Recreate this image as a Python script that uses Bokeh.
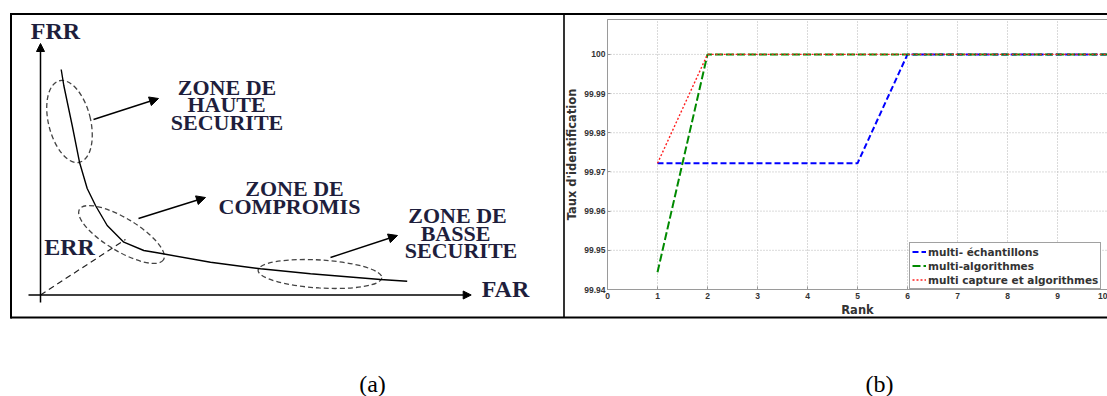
from bokeh.plotting import figure
from bokeh.models import (Range1d, ColumnDataSource, Arrow, NormalHead, LinearAxis,
                          FixedTicker, Legend, LegendItem)
from bokeh.embed import file_html
from bokeh.resources import INLINE
from bokeh.core.properties import value

# ---------------- (a) schematic FRR / FAR (page pixel coordinates) ----------------
curve_x = [60.7, 63.3, 71.7, 79, 86.7, 95, 106.7, 123.3, 143.3, 156.7, 210, 260, 310, 380, 406.7]
curve_y = [69, 85, 125, 161.7, 188, 205, 225, 241.7, 250, 252.3, 261.7, 268.3, 273.3, 279, 280.7]
err_x = [40, 125]
err_y = [294.5, 239]
ell_x = [69, 121, 319.5]
ell_y = [121, 234, 273.5]
ell_w = [42, 98, 124]
ell_h = [84, 33, 28]
ell_angle = [14, -31, -3.5]
arrow_x0 = [93, 138, 330]
arrow_y0 = [119, 218, 257]
arrow_x1 = [158, 205, 397]
arrow_y1 = [98, 197, 235]
zone_labels = ["ZONE DE", "HAUTE", "SECURITE", "ZONE DE", "COMPROMIS", "ZONE DE", "BASSE", "SECURITE"]
zone_x = [226.5, 226, 226.5, 294, 289, 457, 455, 460.5]
zone_y = [86.7, 104.3, 122.3, 188.3, 205.7, 215, 232.7, 250]
axis_names = ["FRR", "ERR", "FAR"]
axis_name_x = [55, 69, 505]
axis_name_y = [30, 246, 288]
frr_axis = (40, 302, 40, 43)
far_axis = (28, 294.5, 470.7, 294.5)

# ---------------- (b) identification rate vs rank ----------------
ranks = [1, 2, 3, 4, 5, 6, 7, 8, 9, 10]
multi_echantillons = [99.9722, 99.9722, 99.9722, 99.9722, 99.9722, 100, 100, 100, 100, 100]
multi_algorithmes = [99.9444, 100, 100, 100, 100, 100, 100, 100, 100, 100]
multi_capture = [99.9722, 100, 100, 100, 100, 100, 100, 100, 100, 100]
series_names = ["multi- échantillons", "multi-algorithmes", "multi capture et algorithmes"]
x_ticks = [0, 1, 2, 3, 4, 5, 6, 7, 8, 9, 10]
y_ticks = [99.94, 99.95, 99.96, 99.97, 99.98, 99.99, 100]
y_tick_labels = ["99.94", "99.95", "99.96", "99.97", "99.98", "99.99", "100"]
captions = ["(a)", "(b)"]
caption_x = [372, 879]
caption_y = [383, 383]

TXT = "#1e1e3c"
SERIF = value("Liberation Serif")

# page geometry (pixels)
W, H = 1107, 396
FRAME_TOP, FRAME_BOT = 19, 289      # chart frame (b)
B_LEFT = 607                         # left edge of the chart frame
PX_PER_RANK = 50
Y_LO, Y_HI = 99.94, 100.0089
X_LO, X_HI = 0, 10
k = (Y_HI - Y_LO) / (FRAME_BOT - FRAME_TOP)

p = figure(width=W, height=H, x_range=Range1d(0, W), y_range=Range1d(H, 0),
           x_axis_type=None, y_axis_type=None, output_backend="svg", toolbar_location=None,
           min_border=0, min_border_left=0, min_border_right=0, min_border_top=0,
           min_border_bottom=0)
p.outline_line_color = None
p.background_fill_color = "white"
p.border_fill_color = "white"
p.title.visible = False
p.extra_x_ranges = {"rank": Range1d(-B_LEFT / PX_PER_RANK, (W - B_LEFT) / PX_PER_RANK)}
p.extra_y_ranges = {"taux": Range1d(Y_LO - (H - FRAME_BOT) * k, Y_LO + FRAME_BOT * k)}


def seg(x0, y0, x1, y1, width=2.0, dash="solid", color="black"):
    p.line([x0, x1], [y0, y1], line_color=color, line_width=width, line_dash=dash)


# outer frame of the whole figure
seg(10.5, 12.5, 10.5, 318)
seg(10, 13.5, W, 13.5)
seg(10, 317, W, 317)
seg(563.5, 13, 563.5, 317.5, width=1.6)

# ---------------- panel (a) ----------------
p.ellipse(x=ell_x, y=ell_y, width=ell_w, height=ell_h, angle=ell_angle,
          angle_units="deg", width_units="screen", height_units="screen",
          fill_color=None, line_color="#444444", line_width=1.3, line_dash="5 3")
p.line(curve_x, curve_y, line_color="black", line_width=1.4)
p.line(err_x, err_y, line_color="#222222", line_width=1.2, line_dash="6 4")

p.add_layout(Arrow(x_start=frr_axis[0], y_start=frr_axis[1], x_end=frr_axis[2], y_end=frr_axis[3],
                   line_color="black", line_width=1.5,
                   end=NormalHead(size=8, fill_color="black", line_color="black")))
p.add_layout(Arrow(x_start=far_axis[0], y_start=far_axis[1], x_end=far_axis[2], y_end=far_axis[3],
                   line_color="black", line_width=1.5,
                   end=NormalHead(size=8, fill_color="black", line_color="black")))
arr_src = ColumnDataSource(dict(x0=arrow_x0, y0=arrow_y0, x1=arrow_x1, y1=arrow_y1))
p.add_layout(Arrow(x_start="x0", y_start="y0", x_end="x1", y_end="y1", source=arr_src,
                   line_color="black", line_width=1.4,
                   end=NormalHead(size=9, fill_color="black", line_color="black")))

p.text(x=zone_x, y=zone_y, text=zone_labels, text_font=SERIF, text_font_style="bold",
       text_font_size="22px", text_align="center", text_baseline="middle", text_color=TXT)
p.text(x=axis_name_x, y=axis_name_y, text=axis_names, text_font=SERIF, text_font_style="bold",
       text_font_size="24px", text_align="center", text_baseline="middle", text_color=TXT)
p.text(x=caption_x, y=caption_y, text=captions, text_font=SERIF, text_font_size="24px",
       text_align="center", text_baseline="middle", text_color="black")

# ---------------- panel (b) ----------------
RB = dict(x_range_name="rank", y_range_name="taux")
GRID = "#b5b5b5"
p.segment(x0=x_ticks, y0=[Y_LO] * len(x_ticks), x1=x_ticks, y1=[Y_HI] * len(x_ticks),
          line_color=GRID, line_dash="1 2", line_width=1, **RB)
p.segment(x0=[X_LO] * len(y_ticks), y0=y_ticks, x1=[X_HI] * len(y_ticks), y1=y_ticks,
          line_color=GRID, line_dash="1 2", line_width=1, **RB)
p.quad(left=[X_LO], right=[X_HI], bottom=[Y_LO], top=[Y_HI], fill_color=None,
       line_color="#9a9a9a", line_width=1, **RB)

r1 = p.line(ranks, multi_echantillons, line_color="#0000ff", line_width=2, line_dash="6 3", **RB)
r2 = p.line(ranks, multi_algorithmes, line_color="#008a00", line_width=2, line_dash="8 3", **RB)
r3 = p.line(ranks, multi_capture, line_color="#ff2020", line_width=1.4, line_dash="2 2", **RB)

xax = LinearAxis(x_range_name="rank", y_range_name="taux", fixed_location=Y_LO,
                 ticker=FixedTicker(ticks=x_ticks), bounds=(X_LO, X_HI), axis_label="Rank")
yax = LinearAxis(x_range_name="rank", y_range_name="taux", fixed_location=X_LO,
                 ticker=FixedTicker(ticks=y_ticks), bounds=(Y_LO, Y_HI),
                 axis_label="Taux d'identification")
yax.major_label_overrides = {t: s for t, s in zip(y_ticks, y_tick_labels)}
for ax in (xax, yax):
    ax.axis_line_color = "#9a9a9a"
    ax.major_tick_in = 3
    ax.major_tick_out = 0
    ax.major_tick_line_color = "#9a9a9a"
    ax.minor_tick_line_color = None
    ax.major_label_text_font = "Liberation Sans"
    ax.major_label_text_font_style = "bold"
    ax.major_label_text_font_size = "8.5px"
    ax.major_label_text_color = "#333333"
    ax.major_label_standoff = 3
    ax.axis_label_text_font = "DejaVu Sans"
    ax.axis_label_text_font_style = "bold"
    ax.axis_label_text_font_size = "11.5px"
    ax.axis_label_text_color = "#333333"
    ax.axis_label_standoff = 1
yax.major_label_standoff = 2
yax.axis_label_standoff = 2
p.add_layout(xax, "below")
p.add_layout(yax, "left")

legend = Legend(items=[LegendItem(label=series_names[0], renderers=[r1]),
                       LegendItem(label=series_names[1], renderers=[r2]),
                       LegendItem(label=series_names[2], renderers=[r3])],
                location=(909, H - FRAME_BOT))
legend.border_line_color = "#444444"
legend.border_line_width = 1
legend.background_fill_color = "white"
legend.background_fill_alpha = 1
legend.padding = 2
legend.margin = 0
legend.spacing = 1
legend.label_height = 13
legend.glyph_height = 13
legend.glyph_width = 14
legend.label_standoff = 2
legend.label_text_font = "DejaVu Sans"
legend.label_text_font_style = "bold"
legend.label_text_font_size = "10.5px"
legend.label_text_color = "#333333"
p.add_layout(legend)

open("out.html", "w").write(file_html(p, INLINE))
